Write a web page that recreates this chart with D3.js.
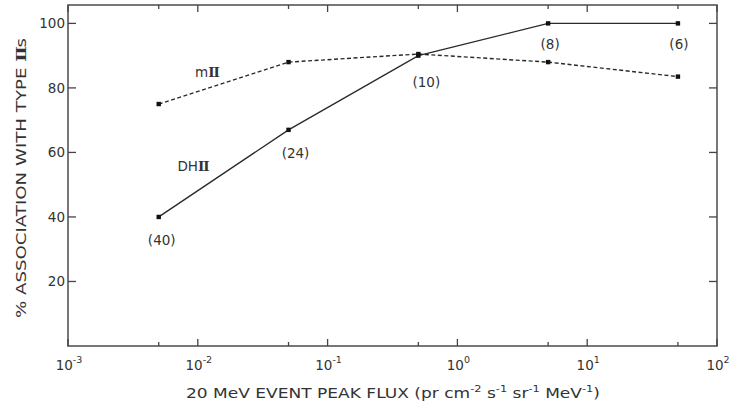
<!DOCTYPE html>
<html><head><meta charset="utf-8">
<script src="https://cdn.jsdelivr.net/npm/d3@7"></script>
<style>
body{margin:0;background:#fff;}
text{font-family:"DejaVu Sans","Liberation Sans",Arial,sans-serif;fill:#333;}
</style></head>
<body><svg id="c" width="730" height="407"></svg>
<script>
const fluxValues = [0.005, 0.05, 0.5, 5, 50];
const dhII = [40, 67, 90, 100, 100];
const dhCounts = ["(40)", "(24)", "(10)", "(8)", "(6)"];
const mII = [75, 88, 90.5, 88, 83.5];
const xMajorTicks = [1e-3, 1e-2, 1e-1, 1, 10, 100];
const xMajorExps = ["-3", "-2", "-1", "0", "1", "2"];
const xMinorTicks = [0.005, 0.05, 0.5, 5, 50];
const yTicks = [20, 40, 60, 80, 100];

const svg = d3.select("#c");
const L = 68, R = 717, T = 5, B = 346;
const x = d3.scaleLog().domain([1e-3, 100]).range([L, R]);
const y = d3.scaleLinear().domain([0, 105.7]).range([B, T]);
const col = "#2a2a2a";
const fs = 13.5;

svg.append("rect").attr("x", L).attr("y", T).attr("width", R - L).attr("height", B - T)
  .attr("fill", "none").attr("stroke", "#555").attr("stroke-width", 1.6);

const g = svg.append("g").attr("stroke", "#444").attr("stroke-width", 1.3);
xMajorTicks.forEach(v => {
  g.append("line").attr("x1", x(v)).attr("x2", x(v)).attr("y1", B).attr("y2", B - 7);
  g.append("line").attr("x1", x(v)).attr("x2", x(v)).attr("y1", T).attr("y2", T + 7);
});
xMinorTicks.forEach(v => {
  g.append("line").attr("x1", x(v)).attr("x2", x(v)).attr("y1", B).attr("y2", B - 4);
  g.append("line").attr("x1", x(v)).attr("x2", x(v)).attr("y1", T).attr("y2", T + 4);
});
yTicks.forEach(v => {
  g.append("line").attr("x1", L).attr("x2", L + 8).attr("y1", y(v)).attr("y2", y(v));
  g.append("line").attr("x1", R).attr("x2", R - 8).attr("y1", y(v)).attr("y2", y(v));
});

xMajorTicks.forEach((v, i) => {
  const t = svg.append("text").attr("x", x(v) + 1).attr("y", 370).attr("text-anchor", "middle")
    .attr("font-size", fs);
  t.append("tspan").text("10");
  t.append("tspan").attr("dy", -7).attr("font-size", 9.5).text(xMajorExps[i]);
});
yTicks.forEach(v => {
  svg.append("text").attr("x", L - 3).attr("y", y(v) + 5).attr("text-anchor", "end")
    .attr("font-size", fs).text(v);
});

const xt = svg.append("text").attr("x", 186).attr("y", 398).attr("font-size", fs)
  .attr("textLength", 414).attr("lengthAdjust", "spacingAndGlyphs");
xt.append("tspan").text("20 MeV EVENT PEAK FLUX (pr cm");
xt.append("tspan").attr("dy", -6).attr("font-size", 9).text("-2");
xt.append("tspan").attr("dy", 6).text(" s");
xt.append("tspan").attr("dy", -6).attr("font-size", 9).text("-1");
xt.append("tspan").attr("dy", 6).text(" sr");
xt.append("tspan").attr("dy", -6).attr("font-size", 9).text("-1");
xt.append("tspan").attr("dy", 6).text(" MeV");
xt.append("tspan").attr("dy", -6).attr("font-size", 9).text("-1");
xt.append("tspan").attr("dy", 6).text(")");

const yt = svg.append("text").attr("transform", "translate(26,318) rotate(-90)")
  .attr("font-size", fs).attr("textLength", 280).attr("lengthAdjust", "spacingAndGlyphs");
yt.append("tspan").text("% ASSOCIATION WITH TYPE ");
yt.append("tspan").attr("font-family", "DejaVu Serif").attr("font-weight", "bold").attr("letter-spacing", -1).text("II");
yt.append("tspan").text("s");

const line = d3.line().x(d => x(d[0])).y(d => y(d[1]));
const dhData = fluxValues.map((v, i) => [v, dhII[i]]);
const mData = fluxValues.map((v, i) => [v, mII[i]]);
svg.append("path").attr("d", line(mData)).attr("fill", "none").attr("stroke", col)
  .attr("stroke-width", 1.4).attr("stroke-dasharray", "4,2.5");
svg.append("path").attr("d", line(dhData)).attr("fill", "none").attr("stroke", col)
  .attr("stroke-width", 1.4);
[...mData, ...dhData].forEach(d => {
  svg.append("rect").attr("x", x(d[0]) - 2.2).attr("y", y(d[1]) - 2.2).attr("width", 4.4).attr("height", 4.4).attr("fill", "#111");
});

const labelOffsets = [[3, 28], [7, 28], [8, 31], [2, 26], [1, 26]];
dhData.forEach((d, i) => {
  svg.append("text").attr("x", x(d[0]) + labelOffsets[i][0]).attr("y", y(d[1]) + labelOffsets[i][1])
    .attr("text-anchor", "middle").attr("font-size", fs).text(dhCounts[i]);
});

const ml = svg.append("text").attr("x", 207).attr("y", 77).attr("text-anchor", "middle").attr("font-size", fs);
ml.append("tspan").text("m");
ml.append("tspan").attr("font-family", "DejaVu Serif").attr("font-weight", "bold").attr("letter-spacing", -1).text("II");
const dl = svg.append("text").attr("x", 193).attr("y", 171).attr("text-anchor", "middle").attr("font-size", fs);
dl.append("tspan").text("DH");
dl.append("tspan").attr("font-family", "DejaVu Serif").attr("font-weight", "bold").attr("letter-spacing", -1).text("II");
</script></body></html>
